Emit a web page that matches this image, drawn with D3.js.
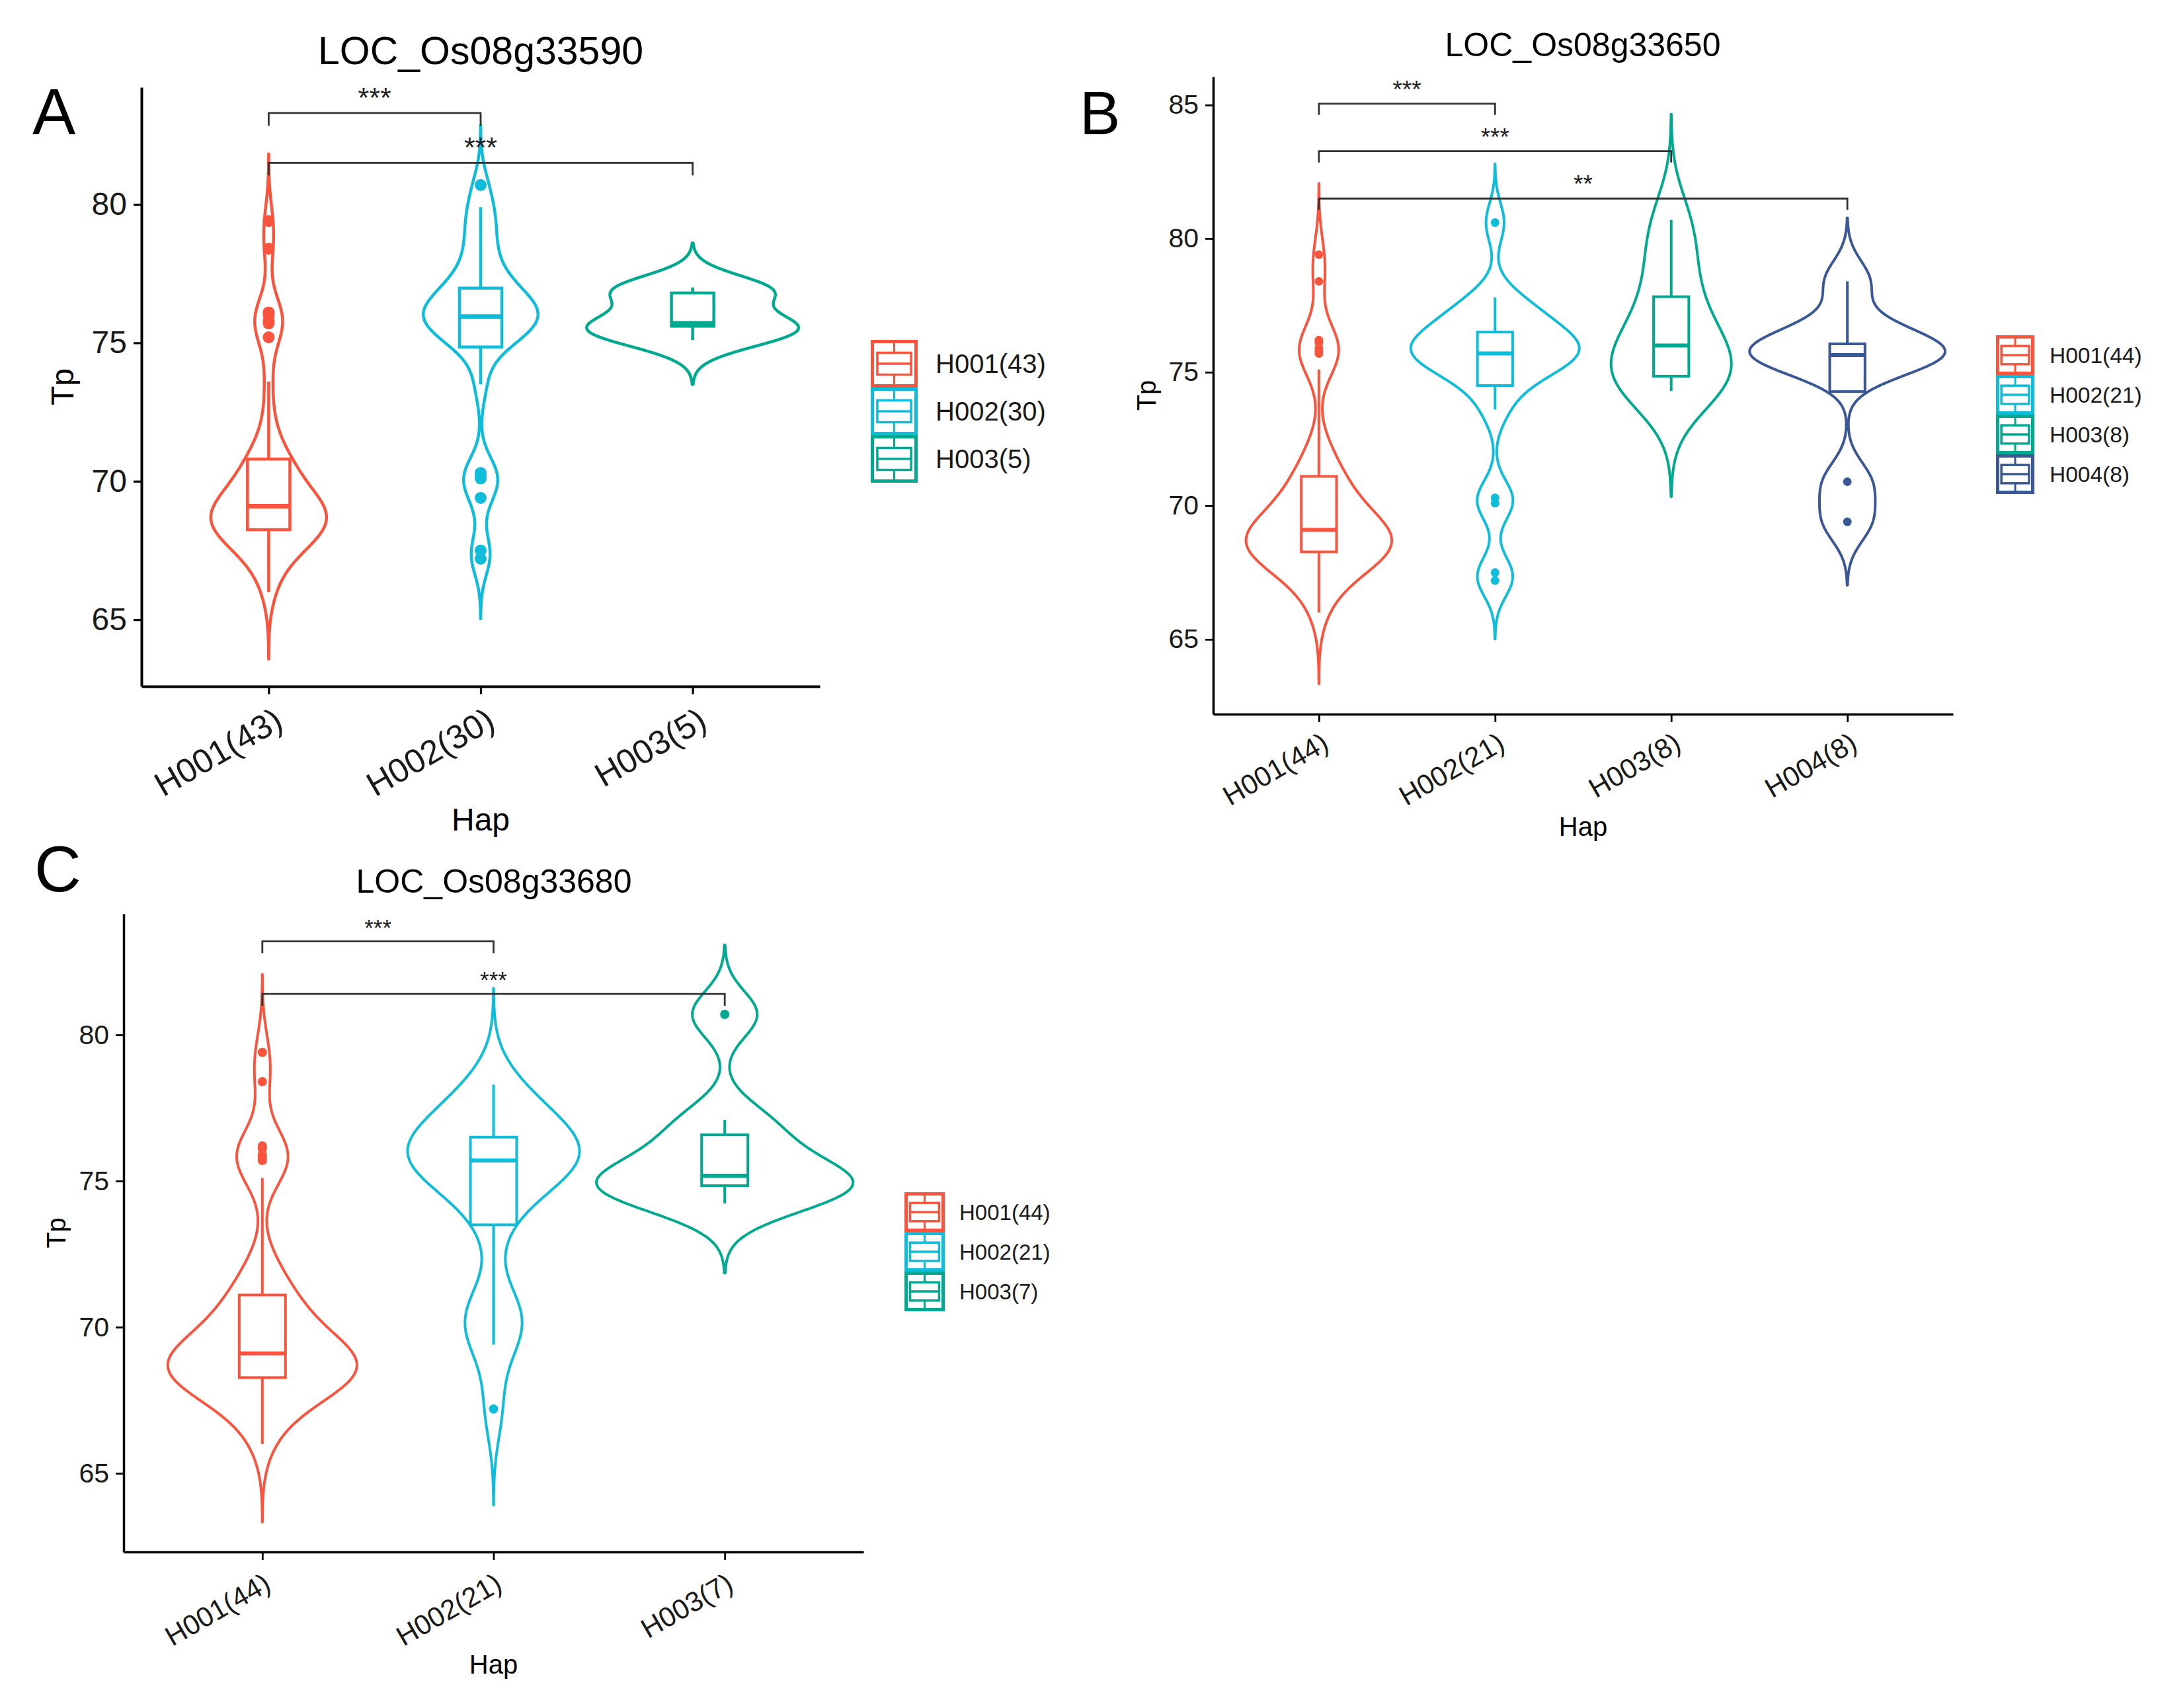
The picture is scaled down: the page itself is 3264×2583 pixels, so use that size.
<!DOCTYPE html>
<html>
<head>
<meta charset="utf-8">
<script src="https://cdn.jsdelivr.net/npm/d3@7"></script>
<style>
  body { margin: 0; background: #fff; }
  svg { display: block; }
  text { font-family: "Liberation Sans", Arial, Helvetica, sans-serif; }
</style>
</head>
<body>
<svg id="fig"></svg>
<script>
// ---- data (Tp values per haplotype) ----
const titleA = "LOC_Os08g33590";
const hapA = ["H001(43)", "H002(30)", "H003(5)"];
const tpA_H001 = [66.0, 66.7, 67.1, 67.4, 67.6, 67.8, 67.9, 68.0, 68.1, 68.2, 68.2, 68.3, 68.4, 68.5, 68.6,
  68.7, 68.8, 68.9, 68.9, 69.0, 69.0, 69.1, 69.2, 69.3, 69.4, 69.6, 69.8, 70.0, 70.2, 70.4, 70.6, 70.7,
  70.9, 71.4, 72.2, 73.6, 75.2, 75.7, 75.8, 76.0, 76.1, 78.4, 79.4];
const tpA_H002 = [67.2, 67.5, 69.4, 70.1, 70.2, 70.3, 73.5, 74.8, 75.0, 75.3, 75.5, 75.6, 75.7, 75.8, 75.9,
  76.0, 76.1, 76.2, 76.4, 76.5, 76.7, 76.9, 77.0, 77.4, 77.8, 78.3, 78.9, 79.4, 79.9, 80.7];
const tpA_H003 = [75.1, 75.6, 75.7, 76.8, 77.0];
const ticksA = [65, 70, 75, 80];
const sigA = [["H001(43)", "H002(30)", 83.3, "***"], ["H001(43)", "H003(5)", 81.5, "***"]];

const titleB = "LOC_Os08g33650";
const hapB = ["H001(44)", "H002(21)", "H003(8)", "H004(8)"];
const tpB_H001 = [66.0, 66.7, 67.1, 67.4, 67.6, 67.8, 67.9, 68.0, 68.1, 68.2, 68.2, 68.3, 68.4, 68.5, 68.6,
  68.7, 68.8, 68.9, 68.9, 69.0, 69.0, 69.1, 69.1, 69.3, 69.4, 69.6, 69.8, 70.0, 70.2, 70.4, 70.6, 70.8,
  71.0, 71.4, 71.8, 72.3, 75.1, 75.7, 75.8, 75.9, 76.1, 76.2, 78.4, 79.4];
const tpB_H002 = [67.2, 67.5, 70.1, 70.3, 73.6, 74.5, 75.0, 75.2, 75.4, 75.6, 75.7, 75.8, 76.0, 76.1, 76.3,
  76.5, 76.8, 77.1, 77.4, 77.8, 80.6];
const tpB_H003 = [74.3, 74.7, 74.9, 75.6, 76.4, 77.4, 79.1, 80.7];
const tpB_H004 = [69.4, 70.9, 75.4, 75.55, 75.73, 75.9, 76.54, 78.4];
const ticksB = [65, 70, 75, 80, 85];
const sigB = [["H001(44)", "H002(21)", 85.05, "***"], ["H001(44)", "H003(8)", 83.27, "***"],
  ["H001(44)", "H004(8)", 81.5, "**"]];

const titleC = "LOC_Os08g33680";
const hapC = ["H001(44)", "H002(21)", "H003(7)"];
const tpC_H001 = [66.0, 66.7, 67.1, 67.4, 67.6, 67.8, 67.9, 68.0, 68.1, 68.2, 68.2, 68.3, 68.4, 68.5, 68.6,
  68.7, 68.8, 68.9, 68.9, 69.0, 69.0, 69.1, 69.1, 69.3, 69.4, 69.6, 69.8, 70.0, 70.2, 70.4, 70.6, 70.8,
  71.0, 71.4, 71.8, 72.3, 75.1, 75.7, 75.8, 75.9, 76.1, 76.2, 78.4, 79.4];
const tpC_H002 = [67.2, 69.4, 70.1, 70.3, 70.8, 73.5, 74.6, 75.0, 75.3, 75.5, 75.7, 75.8, 75.9, 76.0, 76.2,
  76.5, 76.7, 77.0, 77.4, 77.8, 78.3];
const tpC_H003 = [74.23, 74.7, 74.98, 75.18, 76.08, 77.08, 80.7];
const ticksC = [65, 70, 75, 80];
const sigC = [["H001(44)", "H002(21)", 83.2, "***"], ["H001(44)", "H003(7)", 81.4, "***"]];

const hapColors = ["#F9553E", "#0FBCD9", "#00A98F", "#3B5896"];

// ---- layout (pixel positions and sizes of each panel) ----
const panels = [
  { letter: "A", letterPos: [49, 203], letterFs: 98, title: titleA, titlePos: [727, 97], titleFs: 59,
    haps: hapA, values: [tpA_H001, tpA_H002, tpA_H003], ticks: ticksA, sig: sigA,
    left: 214, right: 1240, top: 132, bottom: 1038, yDomain: [62.59, 84.23],
    tickFs: 48, xTickFs: 51, xLab: [6, 30], axisFs: 48, tpX: 111, hapY: 1256,
    lw: 4.5, medW: 7, axisW: 4, dotR: 9, vWidth: 1.0, tip: 19, starFs: 43,
    legend: { x: 1317, y: 514, w: 71, h: 72, tx: 1415, fs: 40 } },
  { letter: "B", letterPos: [1633, 203], letterFs: 92, title: titleB, titlePos: [2394, 85], titleFs: 50,
    haps: hapB, values: [tpB_H001, tpB_H002, tpB_H003, tpB_H004], ticks: ticksB, sig: sigB,
    left: 1835, right: 2954, top: 116, bottom: 1080, yDomain: [62.2, 86.06],
    tickFs: 41, xTickFs: 42, xLab: [2, 26], axisFs: 40, tpX: 1748, hapY: 1264,
    lw: 4, medW: 6, axisW: 3.5, dotR: 6.5, vWidth: 1.11, tip: 17, starFs: 37,
    legend: { x: 3019, y: 507, w: 58, h: 60, tx: 3100, fs: 33.5 } },
  { letter: "C", letterPos: [52, 1348], letterFs: 98, title: titleC, titlePos: [747, 1350], titleFs: 50,
    haps: hapC, values: [tpC_H001, tpC_H002, tpC_H003], ticks: ticksC, sig: sigC,
    left: 187, right: 1306, top: 1382, bottom: 2347, yDomain: [62.31, 84.14],
    tickFs: 41, xTickFs: 42, xLab: [0, 30], axisFs: 40, tpX: 99, hapY: 2531,
    lw: 4, medW: 6, axisW: 3.5, dotR: 7, vWidth: 1.11, tip: 18, starFs: 35,
    legend: { x: 1368, y: 1803, w: 61, h: 60, tx: 1451, fs: 33 } }
];

const svg = d3.select("#fig").attr("width", 3264).attr("height", 2583);
svg.append("rect").attr("width", 3264).attr("height", 2583).attr("fill", "#fff");

// R's bw.nrd0 and a gaussian kde, as geom_violin does (trim = FALSE, cut = 3)
function bwNrd0(s) {
  const sd = d3.deviation(s);
  const iqr = d3.quantile(s, 0.75) - d3.quantile(s, 0.25);
  return 0.9 * Math.min(sd, iqr / 1.34) * Math.pow(s.length, -0.2);
}
function kde(s, bw) {
  const lo = s[0] - 3 * bw, hi = s[s.length - 1] + 3 * bw;
  return d3.range(512).map(i => {
    const t = lo + (hi - lo) * i / 511;
    const d = d3.mean(s, v => Math.exp(-0.5 * ((t - v) / bw) ** 2)) / (bw * Math.sqrt(2 * Math.PI));
    return [t, d];
  });
}
function boxStats(s) {
  const q1 = d3.quantile(s, 0.25), med = d3.quantile(s, 0.5), q3 = d3.quantile(s, 0.75);
  const iqr = q3 - q1, lf = q1 - 1.5 * iqr, uf = q3 + 1.5 * iqr;
  const inside = s.filter(v => v >= lf && v <= uf);
  return { q1, med, q3, lo: d3.min(inside), hi: d3.max(inside), out: s.filter(v => v < lf || v > uf) };
}

function drawPanel(p) {
  const g = svg.append("g");
  const x = d3.scalePoint().domain(p.haps).range([p.left, p.right]).padding(0.6);
  const y = d3.scaleLinear().domain(p.yDomain).range([p.bottom, p.top]);
  const step = x.step();

  const groups = p.values.map(v => {
    const s = v.slice().sort(d3.ascending);
    const bw = bwNrd0(s);
    return { s, dens: kde(s, bw), box: boxStats(s) };
  });
  // scale = "area": one width scale shared by all violins of a panel
  const maxD = d3.max(groups, gr => d3.max(gr.dens, d => d[1]));
  const w = d3.scaleLinear().domain([0, maxD]).range([0, p.vWidth * step / 2]);
  const boxW = 0.2 * step;

  groups.forEach((gr, i) => {
    const cx = x(p.haps[i]), col = hapColors[i];
    g.append("path").datum(gr.dens)
      .attr("d", d3.area().x0(d => cx - w(d[1])).x1(d => cx + w(d[1])).y(d => y(d[0])))
      .attr("fill", "none").attr("stroke", col).attr("stroke-width", p.lw).attr("stroke-linejoin", "round");
    const b = gr.box;
    g.append("line").attr("x1", cx).attr("x2", cx).attr("y1", y(b.q1)).attr("y2", y(b.lo))
      .attr("stroke", col).attr("stroke-width", p.lw);
    g.append("line").attr("x1", cx).attr("x2", cx).attr("y1", y(b.q3)).attr("y2", y(b.hi))
      .attr("stroke", col).attr("stroke-width", p.lw);
    g.append("rect").attr("x", cx - boxW / 2).attr("y", y(b.q3)).attr("width", boxW)
      .attr("height", y(b.q1) - y(b.q3)).attr("fill", "#fff").attr("stroke", col).attr("stroke-width", p.lw);
    g.append("line").attr("x1", cx - boxW / 2).attr("x2", cx + boxW / 2).attr("y1", y(b.med)).attr("y2", y(b.med))
      .attr("stroke", col).attr("stroke-width", p.medW);
    g.selectAll(null).data(b.out).enter().append("circle")
      .attr("cx", cx).attr("cy", d => y(d)).attr("r", p.dotR).attr("fill", col);
  });

  // axes
  const yAx = g.append("g").attr("transform", `translate(${p.left},0)`)
    .call(d3.axisLeft(y).tickValues(p.ticks).tickSize(12).tickSizeOuter(0).tickPadding(10));
  const xAx = g.append("g").attr("transform", `translate(0,${p.bottom})`)
    .call(d3.axisBottom(x).tickSize(12).tickSizeOuter(0));
  [yAx, xAx].forEach(a => {
    a.select(".domain").attr("stroke", "#000").attr("stroke-width", p.axisW);
    a.selectAll(".tick line").attr("stroke", "#000").attr("stroke-width", p.axisW * 0.8);
  });
  yAx.selectAll(".tick text").attr("font-size", p.tickFs).attr("fill", "#1a1a1a");
  xAx.selectAll(".tick text").attr("font-size", p.xTickFs).attr("fill", "#1a1a1a")
    .attr("x", 0).attr("y", 0).attr("dy", "0.71em").style("text-anchor", "end")
    .attr("transform", `translate(${p.xLab[0]},${p.xLab[1]}) rotate(-30)`);

  // axis titles
  g.append("text").attr("x", (p.left + p.right) / 2).attr("y", p.hapY).attr("text-anchor", "middle")
    .attr("font-size", p.axisFs).text("Hap");
  g.append("text").attr("transform", `translate(${p.tpX},${(p.top + p.bottom) / 2}) rotate(-90)`)
    .attr("text-anchor", "middle").attr("font-size", p.axisFs).text("Tp");
  g.append("text").attr("x", p.titlePos[0]).attr("y", p.titlePos[1]).attr("text-anchor", "middle")
    .attr("font-size", p.titleFs).text(p.title);
  g.append("text").attr("x", p.letterPos[0]).attr("y", p.letterPos[1])
    .attr("font-size", p.letterFs).text(p.letter);

  // significance brackets
  p.sig.forEach(([a, bb, yv, lab]) => {
    const x1 = x(a), x2 = x(bb), yy = y(yv);
    g.append("path").attr("d", `M${x1},${yy + p.tip}V${yy}H${x2}V${yy + p.tip}`)
      .attr("fill", "none").attr("stroke", "#333").attr("stroke-width", 2.8);
    g.append("text").attr("x", (x1 + x2) / 2).attr("y", yy - 9).attr("text-anchor", "middle")
      .attr("font-size", p.starFs).attr("fill", "#222").text(lab);
  });

  // legend
  const L = p.legend;
  p.haps.forEach((h, i) => {
    const col = hapColors[i], ky = L.y + i * L.h, kx = L.x;
    const k = g.append("g");
    k.append("rect").attr("x", kx + 2.5).attr("y", ky + 2.5).attr("width", L.w - 5).attr("height", L.h - 5)
      .attr("fill", "#fff").attr("stroke", col).attr("stroke-width", 5);
    k.append("rect").attr("x", kx + L.w * 0.14).attr("y", ky + L.h * 0.27).attr("width", L.w * 0.72)
      .attr("height", L.h * 0.46).attr("fill", "none").attr("stroke", col).attr("stroke-width", 3.5);
    k.append("line").attr("x1", kx + L.w * 0.14).attr("x2", kx + L.w * 0.86).attr("y1", ky + L.h / 2)
      .attr("y2", ky + L.h / 2).attr("stroke", col).attr("stroke-width", 3.5);
    k.append("line").attr("x1", kx + L.w / 2).attr("x2", kx + L.w / 2).attr("y1", ky + 2).attr("y2", ky + L.h * 0.27)
      .attr("stroke", col).attr("stroke-width", 3);
    k.append("line").attr("x1", kx + L.w / 2).attr("x2", kx + L.w / 2).attr("y1", ky + L.h * 0.73).attr("y2", ky + L.h - 2)
      .attr("stroke", col).attr("stroke-width", 3);
    g.append("text").attr("x", L.tx).attr("y", ky + L.h / 2).attr("dy", "0.36em")
      .attr("font-size", L.fs).attr("fill", "#1a1a1a").text(h);
  });
}

panels.forEach(drawPanel);
</script>
</body>
</html>
